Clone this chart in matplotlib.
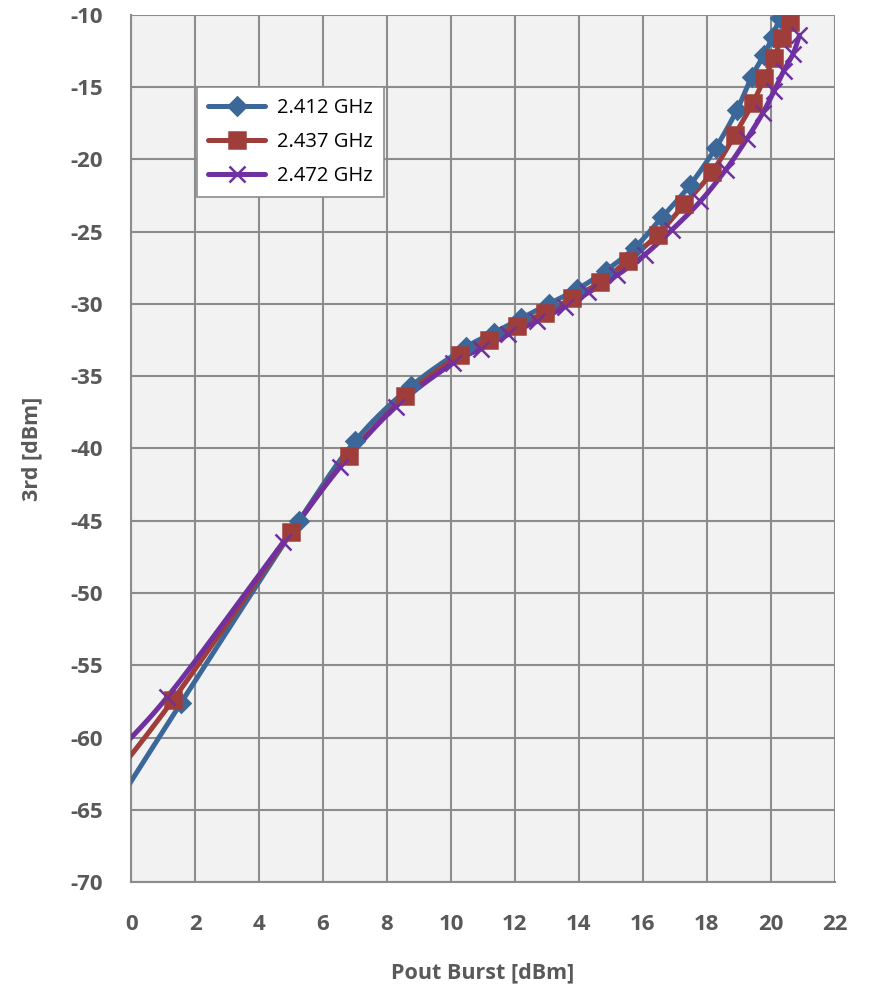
import numpy as np
import matplotlib.pyplot as plt

plt.rcParams['axes.unicode_minus'] = False

# Pout burst [dBm] vs 3rd harmonic [dBm], one series per channel
x_2412 = [-1.0, 1.56, 5.25, 7.0, 8.75, 10.47, 11.34, 12.2, 13.06, 13.94, 14.84,
          15.75, 16.6, 17.47, 18.28, 18.94, 19.4, 19.78, 20.06, 20.28]
y_2412 = [-66.5, -57.6, -45.0, -39.5, -35.7, -33.0, -32.0, -31.0, -30.0, -29.0, -27.7,
          -26.1, -24.0, -21.8, -19.2, -16.6, -14.3, -12.8, -11.5, -10.2]

x_2437 = [-1.0, 1.31, 5.0, 6.81, 8.56, 10.3, 11.2, 12.06, 12.94, 13.8, 14.66,
          15.53, 16.47, 17.3, 18.16, 18.88, 19.44, 19.8, 20.1, 20.34, 20.6]
y_2437 = [-64.0, -57.4, -45.8, -40.5, -36.4, -33.5, -32.5, -31.5, -30.6, -29.6, -28.5,
          -27.0, -25.2, -23.1, -20.9, -18.3, -16.1, -14.4, -13.0, -11.6, -10.5]

x_2472 = [-1.0, 1.13, 4.75, 6.53, 8.28, 10.06, 10.94, 11.8, 12.7, 13.56, 14.3,
          15.2, 16.06, 16.9, 17.8, 18.6, 19.25, 19.75, 20.1, 20.4, 20.7, 20.9]
y_2472 = [-62.2, -57.2, -46.5, -41.3, -37.1, -34.1, -33.1, -32.1, -31.2, -30.2, -29.2,
          -28.0, -26.6, -24.9, -22.9, -20.7, -18.6, -16.8, -15.3, -13.9, -12.7, -11.4]

labels = ['2.412 GHz', '2.437 GHz', '2.472 GHz']
colors = ['#3B6899', '#9E3D3A', '#7030A0']


def smooth(xs, ys, n=40):
    # Catmull-Rom through the points, like a spreadsheet "smoothed line"
    p = np.column_stack([xs, ys]).astype(float)
    p = np.vstack([p[0], p, p[-1]])
    out = []
    t = np.linspace(0, 1, n)[:, None]
    for i in range(1, len(p) - 2):
        p0, p1, p2, p3 = p[i - 1], p[i], p[i + 1], p[i + 2]
        seg = 0.5 * ((2 * p1) + (-p0 + p2) * t + (2 * p0 - 5 * p1 + 4 * p2 - p3) * t ** 2
                     + (-p0 + 3 * p1 - 3 * p2 + p3) * t ** 3)
        out.append(seg)
    out = np.vstack(out)
    return out[:, 0], out[:, 1]


fig = plt.figure(figsize=(8.74, 9.9), dpi=100)
ax = fig.add_axes([0.150, 0.109, 0.805, 0.876])
ax.set_facecolor('#F2F2F2')

series = [(x_2412, y_2412, 'D', 9), (x_2437, y_2437, 's', 11), (x_2472, y_2472, 'x', 12)]
for (xs, ys, mk, ms), lab, c in zip(series, labels, colors):
    sx, sy = smooth(xs, ys)
    ax.plot(sx, sy, color=c, lw=3.6, solid_capstyle='round', solid_joinstyle='round', zorder=3)
    ax.plot(xs, ys, ls='none', marker=mk, ms=ms, color=c, mec=c, mew=1.8, zorder=4)
    ax.plot([], [], color=c, lw=3.6, marker=mk, ms=ms, mew=1.8, label=lab,
            solid_capstyle='round')

ax.set_xlim(0, 22)
ax.set_ylim(-70, -10)
ax.set_xticks(np.arange(0, 23, 2))
ax.set_yticks(np.arange(-70, -9, 5))
ax.grid(True, color='#8C8C8C', lw=1.5)
ax.set_axisbelow(True)
for s in ax.spines.values():
    s.set_visible(False)
for side in ('left', 'bottom'):
    ax.spines[side].set_visible(True)
    ax.spines[side].set_color('#8C8C8C')
    ax.spines[side].set_linewidth(1.5)
ax.tick_params(length=0, labelsize=16, labelcolor='#595959')
ax.tick_params(axis='x', pad=23)
ax.tick_params(axis='y', pad=20)
for t in ax.get_xticklabels() + ax.get_yticklabels():
    t.set_fontweight('bold')
    t.set_family('Open Sans')

ax.set_xlabel('Pout Burst [dBm]', fontsize=15.5, fontweight='bold', color='#595959',
              family='Open Sans', labelpad=20)
ax.set_ylabel('3rd [dBm]', fontsize=15.5, fontweight='bold', color='#595959',
              family='Open Sans', labelpad=20)

leg = ax.legend(loc='upper left', bbox_to_anchor=(0.094, 0.917), borderaxespad=0,
                fancybox=False, framealpha=1, edgecolor='#8C8C8C',
                prop={'family': 'Open Sans', 'size': 14.5},
                handlelength=2.8, borderpad=0.55, labelspacing=0.7, handletextpad=0.6)
leg.get_frame().set_linewidth(1.2)

fig.savefig('out.png', dpi=100)
